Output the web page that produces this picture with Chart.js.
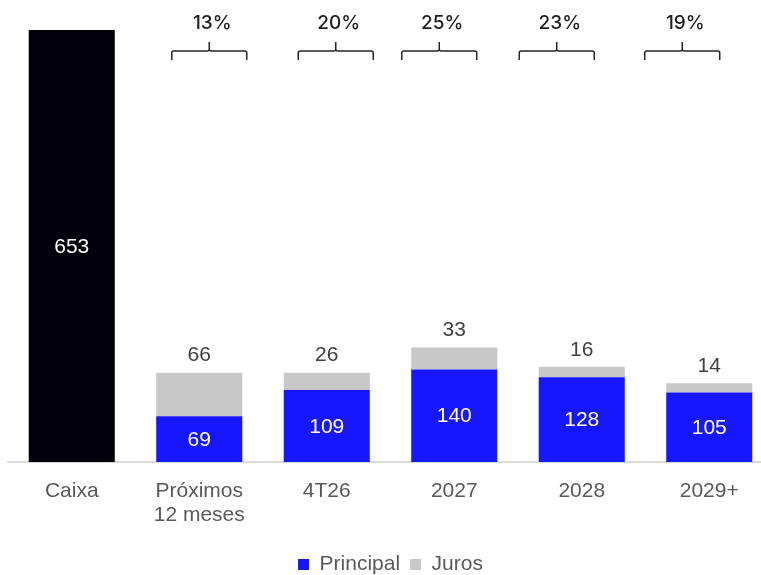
<!DOCTYPE html>
<html>
<head>
<meta charset="utf-8">
<script src="https://cdn.jsdelivr.net/npm/chart.js@4"></script>
<style>
  html, body { margin: 0; padding: 0; background: #fff; overflow: hidden; }
</style>
</head>
<body>
<canvas id="debtChart" width="782" height="575"></canvas>
<script>
const categories = ['Caixa', ['Próximos', '12 meses'], '4T26', '2027', '2028', '2029+'];
const caixa = [653, null, null, null, null, null];
const principal = [null, 69, 109, 140, 128, 105];
const juros = [null, 66, 26, 33, 16, 14];
const percentLabels = ['13%', '20%', '25%', '23%', '19%'];

// braces above the maturity bars (not quite centered in the original)
const bracePlugin = {
    id: 'braces',
    afterDraw(chart, args, opts) {
        const x = chart.scales.x;
        const c = chart.ctx;
        c.save();
        c.strokeStyle = '#262626';
        c.lineWidth = 1.5;
        percentLabels.forEach((txt, i) => {
            const cx = x.getPixelForValue(i + 1) + opts.shift[i];
            const half = 37.5;
            const yLine = 51, yEnd = 60, yTip = 42;
            c.beginPath();
            c.moveTo(cx - half, yEnd);
            c.lineTo(cx - half, yLine + 2);
            c.quadraticCurveTo(cx - half, yLine, cx - half + 2, yLine);
            c.lineTo(cx - 2, yLine);
            c.quadraticCurveTo(cx, yLine, cx, yLine - 2);
            c.lineTo(cx, yTip);
            c.moveTo(cx, yLine - 2);
            c.quadraticCurveTo(cx, yLine, cx + 2, yLine);
            c.lineTo(cx + half - 2, yLine);
            c.quadraticCurveTo(cx + half, yLine, cx + half, yLine + 2);
            c.lineTo(cx + half, yEnd);
            c.stroke();

            c.fillStyle = '#1f1f1f';
            c.font = '500 19px Inter, "Open Sans", sans-serif';
            c.textAlign = 'center';
            c.textBaseline = 'middle';
            c.fillText(txt, cx + 3, 23);
        });
        c.restore();
    }
};

// value labels on the bars
const valuePlugin = {
    id: 'values',
    afterDatasetsDraw(chart) {
        const c = chart.ctx;
        c.save();
        c.font = '21px "Liberation Sans", Arial, sans-serif';
        c.textAlign = 'center';
        c.textBaseline = 'middle';
        chart.data.datasets.forEach((ds, di) => {
            const meta = chart.getDatasetMeta(di);
            meta.data.forEach((bar, i) => {
                const v = ds.data[i];
                if (v === null) return;
                if (ds.label === 'Juros') {
                    c.fillStyle = '#404040';
                    c.fillText(v, bar.x, bar.y - 17);
                } else {
                    c.fillStyle = '#fff';
                    c.fillText(v, bar.x, (bar.y + bar.base) / 2 + 1);
                }
            });
        });
        c.restore();
    }
};

new Chart(document.getElementById('debtChart'), {
    type: 'bar',
    data: {
        labels: categories,
        datasets: [
            { label: 'Caixa', data: caixa, backgroundColor: '#02000a' },
            { label: 'Principal', data: principal, backgroundColor: '#1616ff' },
            { label: 'Juros', data: juros, backgroundColor: '#c8c8c8' }
        ]
    },
    options: {
        responsive: false,
        animation: false,
        layout: { padding: { left: 8, right: 9, top: 30, bottom: -10 } },
        datasets: { bar: { categoryPercentage: 1, barPercentage: 0.675 } },
        scales: {
            x: {
                stacked: true,
                grid: { display: false },
                border: { display: true, color: '#d9d9d9', width: 2 },
                ticks: {
                    color: '#595959',
                    padding: 9,
                    font: { family: '"Liberation Sans", Arial, sans-serif', size: 21, lineHeight: 1.15 }
                },
                afterFit(scale) { scale.height = 82; }
            },
            y: {
                stacked: true,
                display: false,
                min: 0,
                max: 653
            }
        },
        plugins: {
            tooltip: { enabled: false },
            braces: { shift: [10, 9, -15, -25, -27] },
            legend: {
                position: 'bottom',
                labels: {
                    filter: item => item.text !== 'Caixa',
                    color: '#595959',
                    boxWidth: 11,
                    boxHeight: 11,
                    padding: 10,
                    font: { family: '"Liberation Sans", Arial, sans-serif', size: 21 }
                }
            }
        }
    },
    plugins: [bracePlugin, valuePlugin]
});
</script>
</body>
</html>
